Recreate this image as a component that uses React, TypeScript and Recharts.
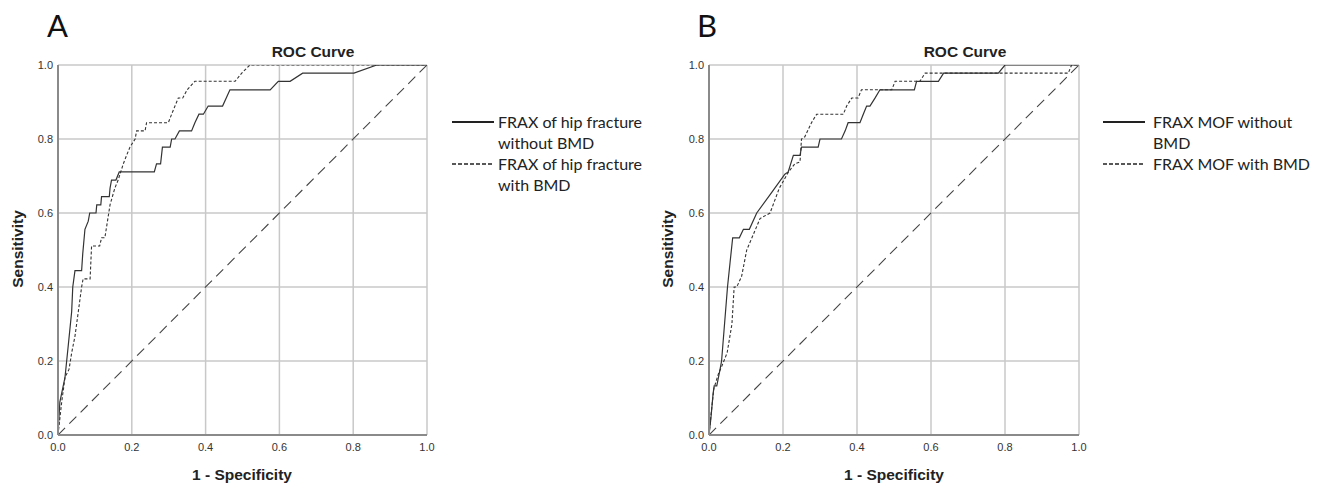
import React from "react";
import { LineChart, Line, XAxis, YAxis, CartesianGrid } from "recharts";

// ---------- data ----------
const TICKS = [0, 0.2, 0.4, 0.6, 0.8, 1.0];

// Panel A: FRAX of hip fracture
const A_NOBMD_FPR = [0, 0.005, 0.019, 0.028, 0.037, 0.04, 0.046, 0.064, 0.067, 0.073, 0.082, 0.086, 0.103, 0.105, 0.116, 0.118, 0.139, 0.141, 0.145, 0.157, 0.166, 0.261, 0.267, 0.278, 0.283, 0.304, 0.308, 0.317, 0.329, 0.362, 0.371, 0.382, 0.394, 0.407, 0.446, 0.466, 0.575, 0.597, 0.629, 0.663, 0.802, 0.864, 1.0];
const A_NOBMD_TPR = [0, 0.089, 0.156, 0.244, 0.333, 0.4, 0.444, 0.444, 0.489, 0.556, 0.578, 0.6, 0.6, 0.622, 0.622, 0.644, 0.644, 0.667, 0.689, 0.689, 0.711, 0.711, 0.733, 0.733, 0.778, 0.778, 0.8, 0.8, 0.822, 0.822, 0.844, 0.867, 0.867, 0.889, 0.889, 0.933, 0.933, 0.956, 0.956, 0.978, 0.978, 1.0, 1.0];

const A_BMD_FPR = [0, 0.01, 0.019, 0.03, 0.037, 0.046, 0.055, 0.064, 0.068, 0.087, 0.091, 0.113, 0.118, 0.127, 0.141, 0.154, 0.163, 0.177, 0.186, 0.195, 0.209, 0.213, 0.236, 0.24, 0.299, 0.308, 0.317, 0.326, 0.338, 0.35, 0.371, 0.48, 0.498, 0.52, 1.0];
const A_BMD_TPR = [0, 0.089, 0.156, 0.178, 0.222, 0.267, 0.333, 0.4, 0.422, 0.422, 0.511, 0.511, 0.533, 0.533, 0.622, 0.667, 0.689, 0.733, 0.756, 0.778, 0.8, 0.822, 0.822, 0.844, 0.844, 0.867, 0.889, 0.911, 0.911, 0.933, 0.956, 0.956, 0.978, 1.0, 1.0];

// Panel B: FRAX MOF
const B_NOBMD_FPR = [0, 0.005, 0.011, 0.014, 0.021, 0.03, 0.034, 0.05, 0.057, 0.064, 0.082, 0.093, 0.109, 0.129, 0.174, 0.205, 0.214, 0.228, 0.246, 0.25, 0.295, 0.3, 0.358, 0.368, 0.376, 0.408, 0.417, 0.426, 0.435, 0.449, 0.462, 0.555, 0.561, 0.62, 0.634, 0.782, 0.8, 1.0];
const B_NOBMD_TPR = [0, 0.044, 0.111, 0.133, 0.133, 0.178, 0.2, 0.4, 0.467, 0.533, 0.533, 0.556, 0.556, 0.6, 0.662, 0.705, 0.711, 0.756, 0.756, 0.778, 0.778, 0.8, 0.8, 0.822, 0.844, 0.844, 0.867, 0.889, 0.889, 0.911, 0.933, 0.933, 0.956, 0.956, 0.978, 0.978, 1.0, 1.0];

const B_BMD_FPR = [0, 0.005, 0.013, 0.026, 0.035, 0.049, 0.062, 0.068, 0.075, 0.08, 0.088, 0.102, 0.138, 0.165, 0.19, 0.215, 0.232, 0.246, 0.25, 0.259, 0.277, 0.291, 0.363, 0.372, 0.386, 0.403, 0.412, 0.494, 0.503, 0.57, 0.584, 0.971, 0.98, 1.0];
const B_BMD_TPR = [0, 0.05, 0.125, 0.167, 0.187, 0.222, 0.3, 0.4, 0.4, 0.411, 0.428, 0.5, 0.585, 0.6, 0.667, 0.711, 0.733, 0.738, 0.8, 0.806, 0.844, 0.867, 0.867, 0.889, 0.911, 0.911, 0.933, 0.933, 0.956, 0.956, 0.978, 0.978, 1.0, 1.0];

const REF_FPR = [0, 1];
const REF_TPR = [0, 1];

const zip = (xs: number[], ys: number[]) => xs.map((x, i) => ({ x, y: ys[i] }));

const CURVE = "#333333";
const ARIAL = "'Liberation Sans', Arial, sans-serif";
const CALIBRI = "Lato, 'Open Sans', sans-serif";

type PanelProps = {
  left: number;
  yAxisWidth: number;
  rightMargin: number;
  solid: { x: number; y: number }[];
  dashed: { x: number; y: number }[];
};

function Panel({ left, yAxisWidth, rightMargin, solid, dashed }: PanelProps) {
  return (
    <div style={{ position: "absolute", left, top: 0 }}>
      <LineChart
        width={440}
        height={486}
        margin={{ top: 65, right: rightMargin, bottom: 21, left: 0 }}
      >
        <CartesianGrid stroke="#c8c8c8" strokeWidth={1.5} />
        <XAxis
          type="number"
          dataKey="x"
          domain={[0, 1]}
          ticks={TICKS}
          tickFormatter={(v: number) => v.toFixed(1)}
          tickLine={false}
          tickSize={6}
          axisLine={{ stroke: "#8a8a8a", strokeWidth: 2 }}
          tick={{ fill: "#333", fontSize: 11, fontFamily: ARIAL }}
          height={30}
          allowDataOverflow
        />
        <YAxis
          type="number"
          dataKey="y"
          domain={[0, 1]}
          ticks={TICKS}
          tickFormatter={(v: number) => v.toFixed(1)}
          tickLine={false}
          tickSize={3}
          axisLine={{ stroke: "#8a8a8a", strokeWidth: 2 }}
          tick={{ fill: "#333", fontSize: 11, fontFamily: ARIAL }}
          width={yAxisWidth}
          allowDataOverflow
        />
        <Line
          data={zip(REF_FPR, REF_TPR)}
          dataKey="y"
          type="linear"
          stroke="#444"
          strokeWidth={1.1}
          strokeDasharray="10 6"
          dot={false}
          activeDot={false}
          isAnimationActive={false}
        />
        <Line
          data={dashed}
          dataKey="y"
          type="linear"
          stroke={CURVE}
          strokeWidth={1.1}
          strokeDasharray="3 2"
          dot={false}
          activeDot={false}
          isAnimationActive={false}
        />
        <Line
          data={solid}
          dataKey="y"
          type="linear"
          stroke={CURVE}
          strokeWidth={1.2}
          dot={false}
          activeDot={false}
          isAnimationActive={false}
        />
      </LineChart>
    </div>
  );
}

const abs = (extra: React.CSSProperties): React.CSSProperties => ({
  position: "absolute",
  whiteSpace: "nowrap",
  lineHeight: 1,
  ...extra,
});

function Labels({ letter, letterX, plotCx, titleCx, yLabelX, legendX, textOffset, legendLines }: {
  letter: string;
  letterX: number;
  plotCx: number;
  titleCx: number;
  yLabelX: number;
  legendX: number;
  textOffset: number;
  legendLines: { text: string[]; dashed: boolean }[];
}) {
  let row = 0;
  return (
    <>
      <div style={abs({ left: letterX, top: 10, fontSize: 31, fontFamily: CALIBRI, color: "#111" })}>
        {letter}
      </div>
      <div
        style={abs({
          left: titleCx,
          top: 52,
          transform: "translate(-50%, -50%)",
          fontSize: 15.5,
          fontWeight: "bold",
          fontFamily: ARIAL,
          color: "#222",
        })}
      >
        ROC Curve
      </div>
      <div
        style={abs({
          left: yLabelX,
          top: 249,
          transform: "translate(-50%, -50%) rotate(-90deg)",
          fontSize: 15.5,
          fontWeight: "bold",
          fontFamily: ARIAL,
          color: "#222",
        })}
      >
        Sensitivity
      </div>
      <div
        style={abs({
          left: plotCx,
          top: 475,
          transform: "translate(-50%, -50%)",
          fontSize: 15.5,
          fontWeight: "bold",
          fontFamily: ARIAL,
          color: "#222",
        })}
      >
        1 - Specificity
      </div>
      {legendLines.map((item, i) => {
        const startRow = row;
        row += item.text.length;
        const y = 122 + startRow * 21;
        return (
          <React.Fragment key={i}>
            <svg style={{ position: "absolute", left: legendX, top: y - 2 }} width={44} height={4}>
              <line
                x1={0}
                x2={42}
                y1={2}
                y2={2}
                stroke="#222"
                strokeWidth={item.dashed ? 1.3 : 1.8}
                strokeDasharray={item.dashed ? "4 2" : undefined}
              />
            </svg>
            {item.text.map((t, j) => (
              <div
                key={j}
                style={abs({
                  left: legendX + textOffset,
                  top: y + j * 21,
                  transform: "translateY(-50%)",
                  fontSize: 16,
                  fontFamily: CALIBRI,
                  color: "#222",
                })}
              >
                {t}
              </div>
            ))}
          </React.Fragment>
        );
      })}
    </>
  );
}

export default function App() {
  return (
    <div style={{ position: "absolute", left: 0, top: 0, width: 1320, height: 486, background: "#fff", overflow: "hidden" }}>
      <Panel left={0} yAxisWidth={58} rightMargin={13} solid={zip(A_NOBMD_FPR, A_NOBMD_TPR)} dashed={zip(A_BMD_FPR, A_BMD_TPR)} />
      <Panel left={650} yAxisWidth={59} rightMargin={11} solid={zip(B_NOBMD_FPR, B_NOBMD_TPR)} dashed={zip(B_BMD_FPR, B_BMD_TPR)} />
      <Labels
        letter="A"
        letterX={47}
        plotCx={242}
        titleCx={313}
        yLabelX={18}
        legendX={452}
        textOffset={46}
        legendLines={[
          { text: ["FRAX of hip fracture", "without BMD"], dashed: false },
          { text: ["FRAX of hip fracture", "with BMD"], dashed: true },
        ]}
      />
      <Labels
        letter="B"
        letterX={697}
        plotCx={894}
        titleCx={965}
        yLabelX={668}
        legendX={1103}
        textOffset={50}
        legendLines={[
          { text: ["FRAX MOF without", "BMD"], dashed: false },
          { text: ["FRAX MOF with BMD"], dashed: true },
        ]}
      />
    </div>
  );
}
